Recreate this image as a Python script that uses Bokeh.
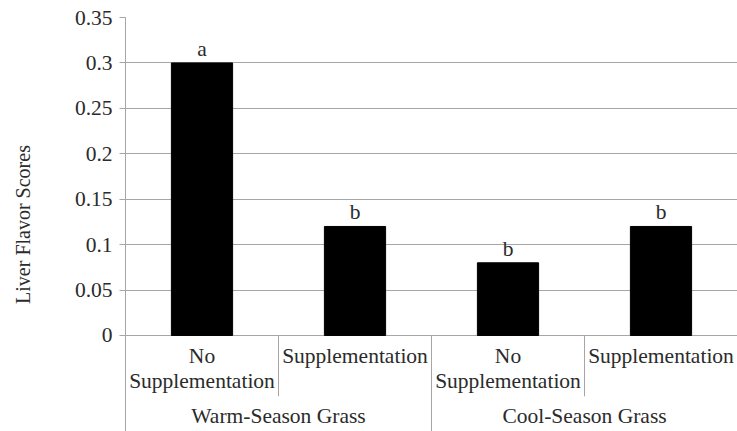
from bokeh.plotting import figure
from bokeh.models import FactorRange, Range1d, FixedTicker, ColumnDataSource
from bokeh.embed import file_html
from bokeh.resources import INLINE
from bokeh.core.properties import value

groups = ["Warm-Season Grass", "Warm-Season Grass", "Cool-Season Grass", "Cool-Season Grass"]
treatments = ["No\nSupplementation", "Supplementation", "No\nSupplementation", "Supplementation"]
scores = [0.30, 0.12, 0.08, 0.12]
letters = ["a", "b", "b", "b"]
y_ticks = [0, 0.05, 0.1, 0.15, 0.2, 0.25, 0.3, 0.35]
y_tick_labels = ["0", "0.05", "0.1", "0.15", "0.2", "0.25", "0.3", "0.35"]
y_title = "Liver Flavor Scores"

FONT = "Liberation Serif"
FS = "21.5px"
TXT = "#2b2b2b"
GRID = "#a6a6a6"

factors = list(zip(groups, treatments))
x_range = FactorRange(factors=factors, factor_padding=0, group_padding=0, range_padding=0)
y_range = Range1d(-0.1057, 0.35)

p = figure(width=737, height=431, x_range=x_range, y_range=y_range,
           output_backend="svg", toolbar_location=None,
           min_border_left=125, min_border_right=0, min_border_top=17, min_border_bottom=0)
p.outline_line_color = None
p.background_fill_color = "white"
p.border_fill_color = "white"

src = ColumnDataSource(dict(x=factors, top=scores, lab=letters))
p.vbar(x="x", top="top", bottom=0, width=0.4, source=src,
       fill_color="black", line_color="black")
p.text(x="x", y="top", text="lab", source=src, text_align="center",
       text_baseline="bottom", y_offset=-2, text_font=value(FONT),
       text_font_size=FS, text_color=TXT)

# category labels
p.text(x=factors, y=[-0.0095] * len(factors), text=treatments, text_align="center",
       text_baseline="top", text_font=value(FONT), text_font_size=FS,
       text_color=TXT, text_line_height=1.05)
ugroups = list(dict.fromkeys(groups))
p.text(x=ugroups, y=[-0.0885] * len(ugroups), text=ugroups, text_align="center",
       text_baseline="middle", text_font=value(FONT), text_font_size=FS,
       text_color=TXT)

# separators between categories
sub_x, grp_x = [], []
for i in range(1, len(groups)):
    if groups[i] != groups[i - 1]:
        grp_x.append(i)
    else:
        sub_x.append(i)
p.segment(x0=sub_x, x1=sub_x, y0=[0] * len(sub_x), y1=[-0.067] * len(sub_x),
          line_color=GRID, line_width=1)
p.segment(x0=grp_x, x1=grp_x, y0=[0] * len(grp_x), y1=[-0.1057] * len(grp_x),
          line_color=GRID, line_width=1)

p.xaxis.visible = False
p.xgrid.visible = False

yax = p.yaxis[0]
yax.ticker = FixedTicker(ticks=y_ticks)
yax.major_label_overrides = {t: l for t, l in zip(y_ticks, y_tick_labels)}
yax.minor_tick_line_color = None
yax.major_tick_in = 0
yax.major_tick_out = 6
yax.major_tick_line_color = GRID
yax.axis_line_color = GRID
yax.major_label_standoff = 7
yax.major_label_text_font = FONT
yax.major_label_text_font_size = FS
yax.major_label_text_color = TXT
yax.axis_label = y_title
yax.axis_label_text_font = FONT
yax.axis_label_text_font_size = "20px"
yax.axis_label_text_font_style = "normal"
yax.axis_label_text_color = TXT
yax.axis_label_standoff = 38

p.ygrid.ticker = FixedTicker(ticks=y_ticks)
p.ygrid.grid_line_color = GRID
p.ygrid.grid_line_width = 1

open("out.html", "w").write(file_html(p, INLINE))
